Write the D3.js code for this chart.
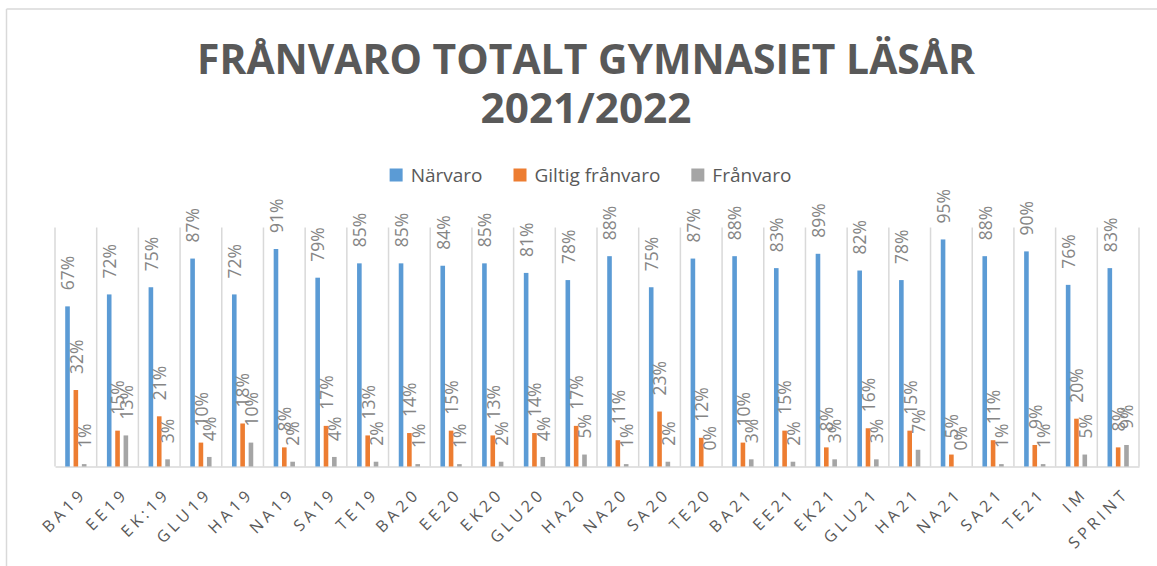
<!DOCTYPE html>
<html>
<head>
<meta charset="utf-8">
<script src="https://cdn.jsdelivr.net/npm/d3@7"></script>
<style>
  html, body { margin: 0; padding: 0; background: #fff; }
  svg { display: block; font-family: "Open Sans", "Noto Sans", sans-serif; }
</style>
</head>
<body>
<svg id="chart" width="1157" height="566"></svg>
<script>
// Klasser / program
const categories = ["BA19", "EE19", "EK:19", "GLU19", "HA19", "NA19", "SA19", "TE19",
  "BA20", "EE20", "EK20", "GLU20", "HA20", "NA20", "SA20", "TE20",
  "BA21", "EE21", "EK21", "GLU21", "HA21", "NA21", "SA21", "TE21", "IM", "SPRINT"];

// Andel (procent) per klass
const narvaro = [67, 72, 75, 87, 72, 91, 79, 85, 85, 84, 85, 81, 78, 88, 75, 87,
  88, 83, 89, 82, 78, 95, 88, 90, 76, 83];
const giltigFranvaro = [32, 15, 21, 10, 18, 8, 17, 13, 14, 15, 13, 14, 17, 11, 23, 12,
  10, 15, 8, 16, 15, 5, 11, 9, 20, 8];
const franvaro = [1, 13, 3, 4, 10, 2, 4, 2, 1, 1, 2, 4, 5, 1, 2, 0,
  3, 2, 3, 3, 7, 0, 1, 1, 5, 9];

const seriesNames = ["Närvaro", "Giltig frånvaro", "Frånvaro"];
const seriesValues = [narvaro, giltigFranvaro, franvaro];
const seriesColors = ["#5B9BD5", "#ED7D31", "#A5A5A5"];

const titleLines = ["FRÅNVARO TOTALT GYMNASIET LÄSÅR", "2021/2022"];

const svg = d3.select("#chart");

// Chart frame
svg.append("line").attr("x1", 6.5).attr("x2", 1157).attr("y1", 9).attr("y2", 9)
  .attr("stroke", "#D9D9D9").attr("stroke-width", 1.5);
svg.append("line").attr("x1", 6.5).attr("x2", 6.5).attr("y1", 9).attr("y2", 566)
  .attr("stroke", "#D9D9D9").attr("stroke-width", 1.5);

// Plot area
const plot = { left: 55, right: 1139, top: 227.5, bottom: 466.5 };

const x = d3.scaleBand().domain(categories).range([plot.left, plot.right]).padding(0);
const groupWidth = 25;
const xSub = d3.scaleBand().domain(seriesNames).range([0, groupWidth]).padding(0);
const barWidth = 4.6;
const y = d3.scaleLinear().domain([0, 100]).range([plot.bottom, plot.top]);

// Category separators
const bounds = categories.map(c => x(c)).concat([plot.right]);
svg.append("g").selectAll("line").data(bounds).join("line")
  .attr("x1", d => d).attr("x2", d => d)
  .attr("y1", plot.top).attr("y2", plot.bottom)
  .attr("stroke", "#D9D9D9").attr("stroke-width", 1.5);

// Category axis (line from d3 axis, labels drawn slanted below)
const xAxis = d3.axisBottom(x).tickSize(0).tickFormat("");
const gx = svg.append("g").attr("transform", `translate(0,${plot.bottom})`).call(xAxis);
gx.select(".domain").attr("stroke", "#D9D9D9").attr("stroke-width", 1.5);

// Slanted, spaced-out category labels: each glyph placed along a 45° baseline
const tickFont = 16, tickSpacing = 4;
const c45 = Math.SQRT1_2;
const measure = svg.append("text").attr("font-size", tickFont).attr("visibility", "hidden");
function charWidth(ch) { measure.text(ch); return measure.node().getComputedTextLength(); }

const tickLayer = svg.append("g");
categories.forEach(label => {
  const ex = x(label) + x.bandwidth() / 2 + 9;
  const ey = plot.bottom + 31;
  const chars = Array.from(label);
  const w = chars.map(charWidth);
  let pos = -(d3.sum(w) + tickSpacing * (chars.length - 1));
  chars.forEach((ch, i) => {
    const px = ex + pos * c45, py = ey - pos * c45;
    tickLayer.append("text")
      .attr("transform", `matrix(${c45},${-c45},${c45},${c45},${px},${py})`)
      .attr("fill", "#595959")
      .attr("font-size", tickFont)
      .text(ch);
    pos += w[i] + tickSpacing;
  });
});
measure.remove();

// Bars and value labels
const rows = categories.map((c, i) => ({
  cat: c,
  vals: seriesNames.map((s, k) => ({ series: s, k, value: seriesValues[k][i] }))
}));

const groups = svg.append("g").selectAll("g").data(rows).join("g")
  .attr("transform", d => `translate(${x(d.cat) + (x.bandwidth() - groupWidth) / 2},0)`);

groups.selectAll("rect").data(d => d.vals).join("rect")
  .attr("x", d => xSub(d.series) + (xSub.bandwidth() - barWidth) / 2)
  .attr("width", barWidth)
  .attr("y", d => y(d.value))
  .attr("height", d => y(0) - y(d.value))
  .attr("fill", d => seriesColors[d.k]);

groups.selectAll("text").data(d => d.vals).join("text")
  .attr("transform", d => {
    const cx = xSub(d.series) + xSub.bandwidth() / 2 + 0.5;
    return `translate(${cx},${y(d.value) - 16}) rotate(-90)`;
  })
  .attr("dy", "0.36em")
  .attr("text-anchor", "start")
  .attr("font-size", 17.5)
  .attr("fill", "#858585")
  .text(d => d.value + "%");

// Title
const titleCx = 586;
const title = svg.append("g");
title.append("text")
  .attr("x", titleCx).attr("y", 74)
  .attr("text-anchor", "middle")
  .attr("font-size", 41).attr("font-weight", "bold")
  .attr("fill", "#595959")
  .attr("textLength", 778).attr("lengthAdjust", "spacingAndGlyphs")
  .text(titleLines[0]);
title.append("text")
  .attr("x", titleCx).attr("y", 123)
  .attr("text-anchor", "middle")
  .attr("font-size", 41).attr("font-weight", "bold")
  .attr("fill", "#595959")
  .attr("textLength", 211).attr("lengthAdjust", "spacingAndGlyphs")
  .text(titleLines[1]);

// Legend
const legend = svg.append("g");
const legendFont = 19, sw = 13, swGap = 8, itemGap = 31, legendCx = 590.5, legendCy = 175;
const items = legend.selectAll("g").data(seriesNames).join("g");
items.append("rect").attr("width", sw).attr("height", sw)
  .attr("y", legendCy - sw / 2).attr("fill", (d, i) => seriesColors[i]);
items.append("text").attr("x", sw + swGap).attr("y", legendCy).attr("dy", "0.35em")
  .attr("font-size", legendFont).attr("fill", "#595959").text(d => d);
const widths = [];
items.each(function () { widths.push(sw + swGap + d3.select(this).select("text").node().getComputedTextLength()); });
const total = d3.sum(widths) + itemGap * (widths.length - 1);
let cursor = legendCx - total / 2;
items.attr("transform", (d, i) => { const t = `translate(${cursor},0)`; cursor += widths[i] + itemGap; return t; });
</script>
</body>
</html>
